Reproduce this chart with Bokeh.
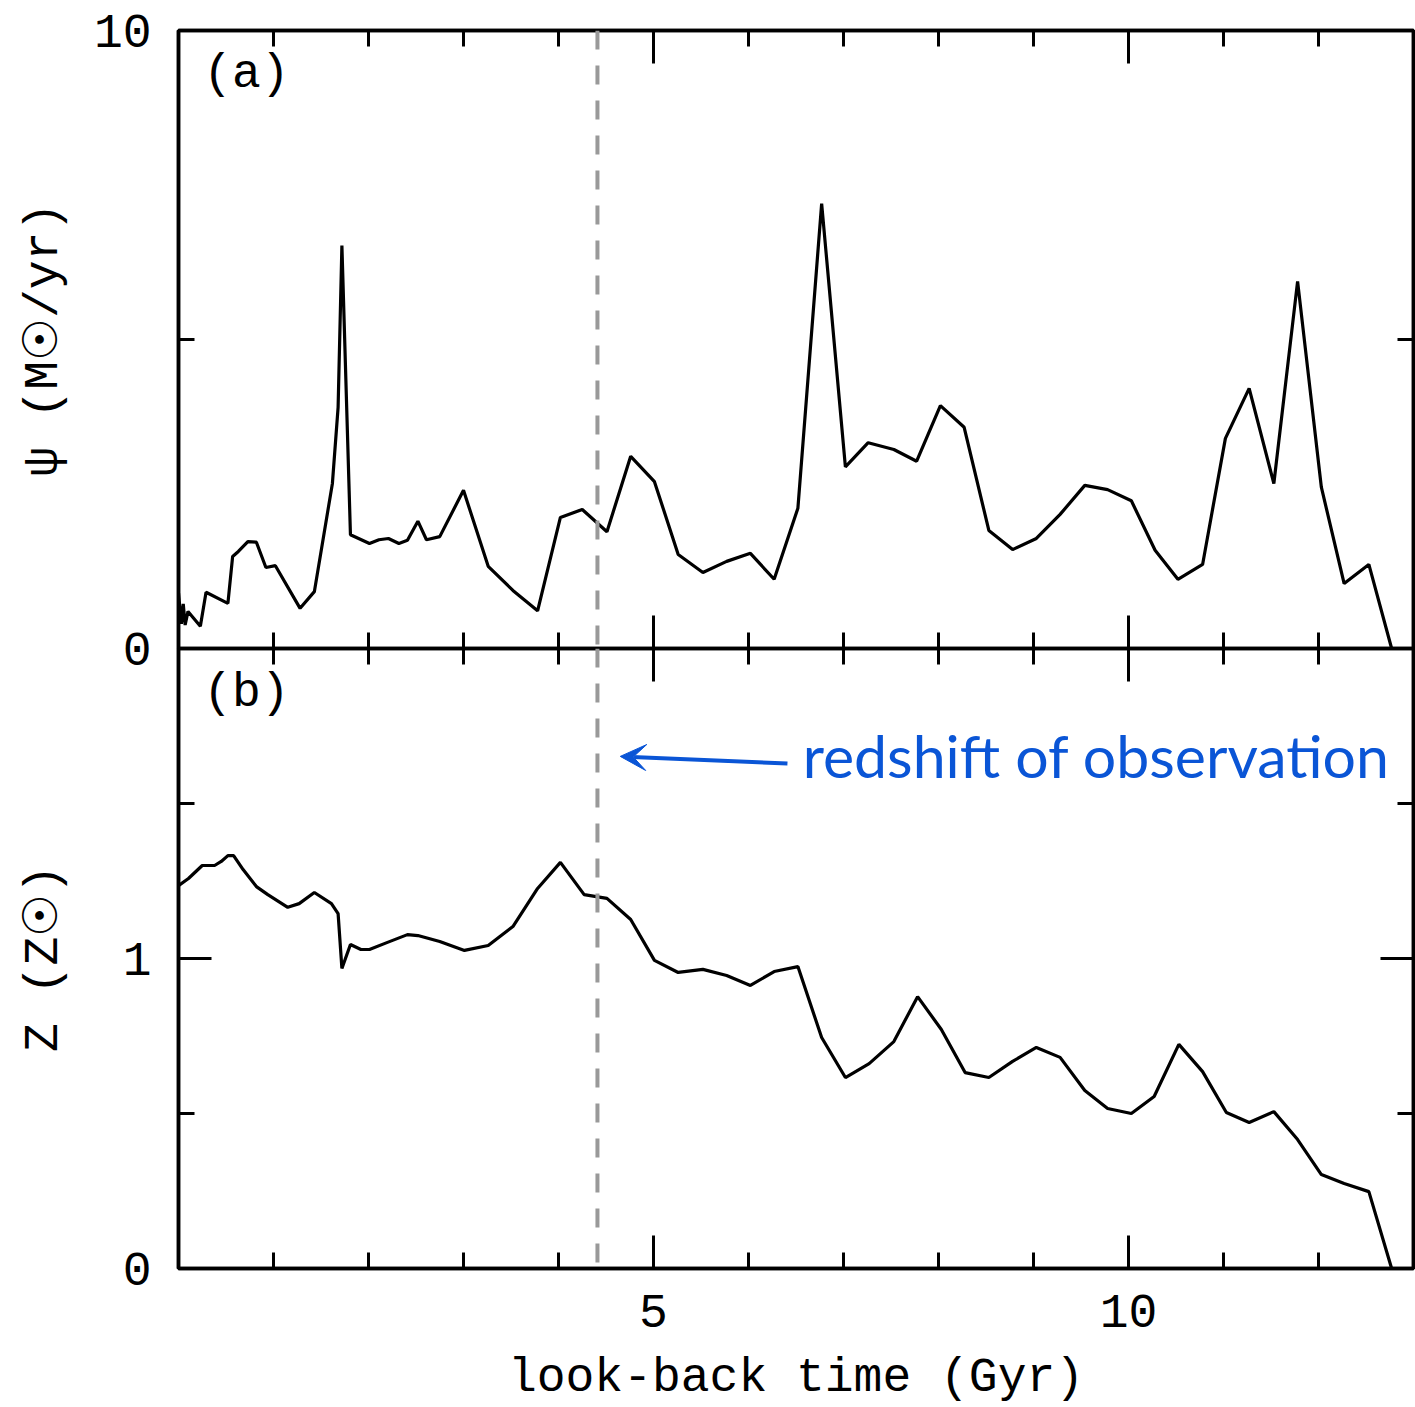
from bokeh.plotting import figure
from bokeh.layouts import column
from bokeh.models import Range1d, LinearAxis, FixedTicker, Span, Arrow, VeeHead, Label
from bokeh.embed import file_html
from bokeh.resources import INLINE

# ---- data ----
sfr_time = [0.00, 0.03, 0.05, 0.07, 0.10, 0.23, 0.29, 0.52, 0.57, 0.63, 0.73, 0.82, 0.92, 1.02,
            1.28, 1.43, 1.62, 1.68, 1.72, 1.81, 2.01, 2.11, 2.21, 2.32, 2.41, 2.52, 2.61, 2.75,
            3.00, 3.26, 3.52, 3.78, 4.02, 4.25, 4.51, 4.76, 5.01, 5.26, 5.52, 5.77, 6.02, 6.27,
            6.52, 6.77, 7.02, 7.26, 7.53, 7.77, 8.02, 8.27, 8.53, 8.78, 9.03, 9.28, 9.54, 9.78,
            10.03, 10.28, 10.52, 10.78, 11.02, 11.27, 11.53, 11.78, 12.03, 12.27, 12.53, 12.77]
sfr = [0.90, 0.40, 0.72, 0.38, 0.60, 0.36, 0.91, 0.73, 1.49, 1.57, 1.73, 1.72, 1.31, 1.34,
       0.65, 0.92, 2.67, 3.90, 6.52, 1.84, 1.70, 1.76, 1.78, 1.70, 1.75, 2.06, 1.76, 1.81,
       2.56, 1.33, 0.94, 0.61, 2.12, 2.25, 1.89, 3.11, 2.70, 1.52, 1.23, 1.41, 1.54, 1.12,
       2.27, 7.20, 2.94, 3.33, 3.22, 3.03, 3.93, 3.58, 1.91, 1.60, 1.78, 2.17, 2.64, 2.57,
       2.39, 1.59, 1.12, 1.36, 3.40, 4.21, 2.67, 5.94, 2.61, 1.05, 1.36, 0.00]

z_time = [0.00, 0.105, 0.25, 0.38, 0.45, 0.52, 0.58, 0.68, 0.82, 0.94, 1.15, 1.27, 1.43, 1.61,
          1.68, 1.72, 1.81, 1.92, 2.01, 2.20, 2.41, 2.52, 2.75, 3.01, 3.26, 3.52, 3.78, 4.02,
          4.27, 4.51, 4.76, 5.01, 5.26, 5.52, 5.77, 6.02, 6.27, 6.52, 6.77, 7.02, 7.27, 7.53,
          7.78, 8.03, 8.28, 8.53, 8.78, 9.03, 9.28, 9.54, 9.78, 10.03, 10.27, 10.53, 10.78,
          11.03, 11.27, 11.53, 11.78, 12.03, 12.27, 12.53, 12.77]
metallicity = [1.235, 1.258, 1.300, 1.300, 1.313, 1.332, 1.332, 1.287, 1.232, 1.206, 1.165,
               1.177, 1.213, 1.177, 1.145, 0.968, 1.045, 1.029, 1.029, 1.052, 1.077, 1.074,
               1.055, 1.026, 1.042, 1.103, 1.226, 1.310, 1.206, 1.194, 1.126, 0.994, 0.955,
               0.965, 0.945, 0.913, 0.958, 0.974, 0.745, 0.616, 0.661, 0.732, 0.877, 0.771,
               0.632, 0.616, 0.668, 0.713, 0.681, 0.574, 0.516, 0.500, 0.555, 0.723, 0.635,
               0.503, 0.471, 0.506, 0.416, 0.303, 0.274, 0.248, 0.000]

obs_time = 4.41
x_major = [5, 10]
x_minor = [1, 2, 3, 4, 6, 7, 8, 9, 11, 12]
sfr_major = [0, 10]
sfr_minor = [5]
z_major = [0, 1]          # the "0" at the panel boundary is drawn by panel (a)
z_minor = [0.5, 1.5]

MONO = "Liberation Mono"
BLUE = "#0a55d6"
W = 1415
OVERLAP = 20
TOP_H = 648 + OVERLAP
BOT_H = 1407 - 648


def make_fig(h, y0, y1, bt, bb):
    f = figure(width=W, height=h, x_range=Range1d(0, 13), y_range=Range1d(y0, y1),
               output_backend="svg", toolbar_location=None,
               x_axis_type=None, y_axis_type=None,
               min_border_left=178, min_border_right=2, min_border_top=bt, min_border_bottom=bb)
    f.xgrid.visible = False
    f.ygrid.visible = False
    f.outline_line_color = "black"
    f.outline_line_width = 3.5
    f.background_fill_color = "white"
    f.border_fill_color = "white"
    return f


def axis(f, side, major, minor, labels):
    ax = LinearAxis(ticker=FixedTicker(ticks=major, minor_ticks=minor))
    ax.major_tick_in = 33
    ax.major_tick_out = 0
    ax.minor_tick_in = 16
    ax.minor_tick_out = 0
    ax.axis_line_width = 3.5
    ax.axis_line_color = "black"
    ax.major_tick_line_width = 3
    ax.minor_tick_line_width = 3
    ax.major_tick_line_color = "black"
    ax.minor_tick_line_color = "black"
    ax.major_label_text_font = MONO
    ax.major_label_text_color = "black"
    ax.axis_label_text_font = MONO
    ax.axis_label_text_font_size = "48px"
    ax.axis_label_text_font_style = "normal"
    ax.axis_label_text_color = "black"
    if labels:
        ax.major_label_text_font_size = "48px"
    else:
        ax.major_label_text_font_size = "0px"
        ax.major_label_standoff = 0
    f.add_layout(ax, side)
    return ax


# ---------------- panel (a): star formation rate ----------------
pa = make_fig(TOP_H, 0, 10, 30, OVERLAP)
la = axis(pa, "left", sfr_major, sfr_minor, True)
la.major_label_standoff = 27
la.axis_label = "ψ (M☉/yr)"
la.axis_label_standoff = 20
axis(pa, "right", sfr_major, sfr_minor, False)
axis(pa, "above", x_major, x_minor, False)
axis(pa, "below", x_major, x_minor, False)
pa.line(sfr_time, sfr, line_color="black", line_width=3.2)
pa.add_layout(Span(location=obs_time, dimension="height", line_color="#999999",
                   line_width=4, line_dash="19 16"))
pa.add_layout(Label(x=0.26, y=9.29, text="(a)", text_font=MONO, text_font_size="48px",
                    text_color="black", text_baseline="middle", text_align="left"))

# ---------------- panel (b): metallicity ----------------
pb = make_fig(BOT_H, 0, 2, 0, 139)
pb.border_fill_color = None
pb.margin = (-OVERLAP, 0, 0, 0)
lb = axis(pb, "left", z_major, z_minor, True)
lb.major_label_standoff = 27
lb.axis_label = "Z (Z☉)"
lb.axis_label_standoff = 49
axis(pb, "right", z_major, z_minor, False)
axis(pb, "above", x_major, x_minor, False)
bx = axis(pb, "below", x_major, x_minor, True)
bx.axis_label = "look-back time (Gyr)"
bx.major_label_standoff = 26
bx.axis_label_standoff = 21
pb.line(z_time, metallicity, line_color="black", line_width=3.2)
pb.add_layout(Span(location=obs_time, dimension="height", line_color="#999999",
                   line_width=4, line_dash="19 16"))
pb.add_layout(Arrow(end=VeeHead(size=26, fill_color=BLUE, line_color=BLUE, line_width=1),
                    x_start=6.41, y_start=1.629, x_end=4.65, y_end=1.652,
                    line_color=BLUE, line_width=4))
pb.add_layout(Label(x=6.57, y=1.655, text="redshift of observation", text_font="Lato",
                    text_font_size="59px", text_color=BLUE, text_baseline="alphabetic",
                    text_align="left"))
pb.add_layout(Label(x=0.26, y=1.858, text="(b)", text_font=MONO, text_font_size="48px",
                    text_color="black", text_baseline="middle", text_align="left"))

layout = column(pa, pb, spacing=0)
open("out.html", "w").write(file_html(layout, INLINE))
